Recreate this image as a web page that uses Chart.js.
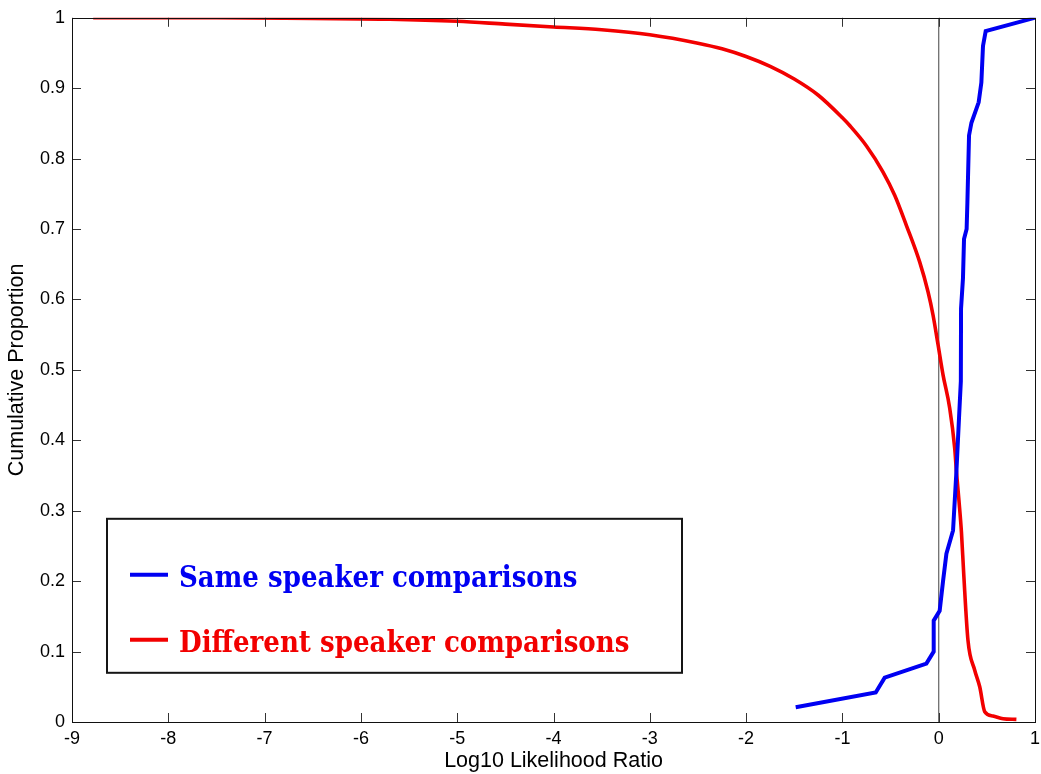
<!DOCTYPE html>
<html>
<head>
<meta charset="utf-8">
<title>Cumulative Proportion vs Log10 Likelihood Ratio</title>
<script src="https://cdn.jsdelivr.net/npm/chart.js@4/dist/chart.umd.min.js"></script>
<style>
  html, body { margin: 0; padding: 0; background: #ffffff; }
  canvas { display: block; }
</style>
</head>
<body>
<canvas id="c" width="1041" height="774"></canvas>
<script>
// Same-speaker comparisons: cumulative proportion against log10 LR
const sameX = [-1.485, -0.654, -0.561, -0.128, -0.052, -0.052, 0.010, 0.045, 0.080, 0.149, 0.184, 0.211, 0.230, 0.232, 0.252, 0.263, 0.290, 0.298, 0.315, 0.340, 0.415, 0.443, 0.460, 0.488, 1.000];
const sameY = [0.021, 0.042, 0.063, 0.083, 0.100, 0.144, 0.158, 0.200, 0.239, 0.272, 0.356, 0.432, 0.484, 0.587, 0.630, 0.686, 0.700, 0.738, 0.833, 0.851, 0.880, 0.908, 0.960, 0.981, 1.000];

// Different-speaker comparisons (reverse cumulative)
const diffX = [-8.78, -7.50, -6.50, -5.70, -5.00, -4.50, -4.00, -3.50, -3.00, -2.50, -2.25, -2.00, -1.75, -1.50, -1.25, -1.00, -0.924, -0.75, -0.578, -0.457, -0.335, -0.197, -0.111, -0.059, -0.007, 0.045, 0.114, 0.166, 0.184, 0.210, 0.236, 0.260, 0.304, 0.374, 0.426, 0.478, 0.564, 0.668, 0.807];
const diffY = [1.000, 1.000, 0.999, 0.998, 0.995, 0.991, 0.987, 0.983, 0.976, 0.964, 0.956, 0.945, 0.931, 0.913, 0.890, 0.858, 0.847, 0.818, 0.781, 0.748, 0.705, 0.653, 0.611, 0.578, 0.536, 0.493, 0.446, 0.389, 0.356, 0.315, 0.270, 0.210, 0.116, 0.0735, 0.050, 0.0146, 0.0085, 0.0047, 0.0037];

// Reference line at log10 LR = 0
const zeroX = [0, 0];
const zeroY = [0, 1];

// Axis ticks
const xTickValues = [-9, -8, -7, -6, -5, -4, -3, -2, -1, 0, 1];
const xTickLabels = ['-9', '-8', '-7', '-6', '-5', '-4', '-3', '-2', '-1', '0', '1'];
const yTickValues = [0, 0.1, 0.2, 0.3, 0.4, 0.5, 0.6, 0.7, 0.8, 0.9, 1];
const yTickLabels = ['0', '0.1', '0.2', '0.3', '0.4', '0.5', '0.6', '0.7', '0.8', '0.9', '1'];

const seriesNames = ['Same speaker comparisons', 'Different speaker comparisons'];
const xTitle = 'Log10 Likelihood Ratio';
const yTitle = 'Cumulative Proportion';

const toPoints = (xs, ys) => xs.map((v, i) => ({ x: v, y: ys[i] }));

const BLUE = '#0000f2';
const RED = '#f20000';
const SANS = '"Liberation Sans", Arial, sans-serif';

// Box round the axes with inward tick marks on all four sides
const axesFrame = {
  id: 'axesFrame',
  afterDatasetsDraw(chart) {
    const { ctx, chartArea: a, scales: { x, y } } = chart;
    const len = 9;
    ctx.save();
    ctx.strokeStyle = '#333';
    ctx.lineWidth = 1;
    ctx.beginPath();
    xTickValues.forEach(v => {
      const px = Math.round(x.getPixelForValue(v)) + 0.5;
      ctx.moveTo(px, a.bottom); ctx.lineTo(px, a.bottom - len);
      ctx.moveTo(px, a.top); ctx.lineTo(px, a.top + len);
    });
    yTickValues.forEach(v => {
      const py = Math.round(y.getPixelForValue(v)) + 0.5;
      ctx.moveTo(a.left, py); ctx.lineTo(a.left + len, py);
      ctx.moveTo(a.right, py); ctx.lineTo(a.right - len, py);
    });
    ctx.stroke();
    ctx.strokeStyle = '#111';
    ctx.strokeRect(Math.round(a.left) + 0.5, Math.round(a.top) + 0.5,
                   Math.round(a.right - a.left), Math.round(a.bottom - a.top));
    ctx.restore();
  }
};

// Boxed legend inside the lower-left of the axes
const boxedLegend = {
  id: 'boxedLegend',
  afterDraw(chart) {
    const { ctx, chartArea: a } = chart;
    const bx = a.left + 35, by = a.top + 501, bw = 575, bh = 154;
    ctx.save();
    ctx.fillStyle = '#ffffff';
    ctx.fillRect(bx, by, bw, bh);
    ctx.strokeStyle = '#151515';
    ctx.lineWidth = 2;
    ctx.strokeRect(bx, by, bw, bh);
    ctx.font = 'bold 29px "DejaVu Serif Condensed", "DejaVu Serif", serif';
    ctx.textBaseline = 'alphabetic';
    ctx.textAlign = 'left';
    const rows = [56, 121];
    chart.data.datasets.slice(0, 2).forEach((ds, i) => {
      const ry = by + rows[i];
      ctx.strokeStyle = ds.borderColor;
      ctx.lineWidth = 4;
      ctx.beginPath();
      ctx.moveTo(bx + 23, ry);
      ctx.lineTo(bx + 61, ry);
      ctx.stroke();
      ctx.fillStyle = ds.borderColor;
      ctx.fillText(ds.label, bx + 72, ry + 12);
    });
    ctx.restore();
  }
};

new Chart(document.getElementById('c'), {
  type: 'line',
  data: {
    datasets: [
      { label: seriesNames[0], data: toPoints(sameX, sameY), borderColor: BLUE, borderWidth: 4, pointRadius: 0, tension: 0 },
      { label: seriesNames[1], data: toPoints(diffX, diffY), borderColor: RED, borderWidth: 3.6, pointRadius: 0, cubicInterpolationMode: 'monotone' },
      { label: 'x = 0', data: toPoints(zeroX, zeroY), borderColor: '#6e6e6e', borderWidth: 1.3, pointRadius: 0, tension: 0 }
    ]
  },
  options: {
    responsive: false,
    animation: false,
    devicePixelRatio: 1,
    layout: { padding: { top: 15, right: 6, bottom: 0, left: 0 } },
    plugins: { legend: { display: false }, tooltip: { enabled: false } },
    scales: {
      x: {
        type: 'linear', min: -9, max: 1,
        grid: { display: false, drawTicks: false },
        border: { display: false },
        afterBuildTicks: s => { s.ticks = xTickValues.map(v => ({ value: v })); },
        afterFit: s => { s.height = 52; s.paddingLeft = 0; s.paddingRight = 0; },
        ticks: {
          autoSkip: false, maxRotation: 0, padding: 6, color: '#000',
          font: { family: SANS, size: 18 },
          callback: (v, i) => xTickLabels[i]
        },
        title: { display: true, text: xTitle, color: '#000', padding: { top: 0, bottom: 0 }, font: { family: SANS, size: 21.5 } }
      },
      y: {
        type: 'linear', min: 0, max: 1,
        grid: { display: false, drawTicks: false },
        border: { display: false },
        afterBuildTicks: s => { s.ticks = yTickValues.map(v => ({ value: v })); },
        afterFit: s => { s.width = 72; },
        ticks: {
          autoSkip: false, padding: 7, color: '#000',
          font: { family: SANS, size: 18 },
          callback: (v, i) => yTickLabels[i]
        },
        title: { display: true, text: yTitle, color: '#000', padding: { top: 4, bottom: 0 }, font: { family: SANS, size: 21.5 } }
      }
    }
  },
  plugins: [axesFrame, boxedLegend]
});
</script>
</body>
</html>
